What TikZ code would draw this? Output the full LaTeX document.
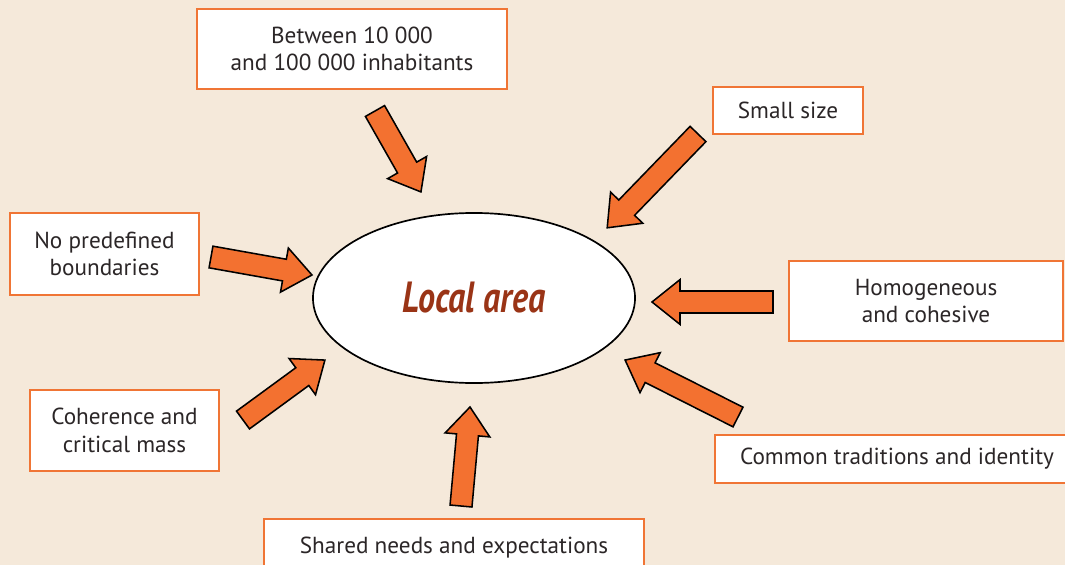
\documentclass[tikz,border=0pt]{standalone}
\usepackage{fontspec}
\setmainfont{PT Sans}
\usepackage{xcolor}
\usepackage{tikz}
\usetikzlibrary{positioning,shapes,calc}

\definecolor{paper}{HTML}{F5E9DA}
\definecolor{boxorange}{HTML}{F07535}
\definecolor{arroworange}{HTML}{F37130}
\definecolor{areared}{HTML}{9A3416}
\definecolor{textgrey}{HTML}{2B2627}

\tikzset{
  factor/.style={draw=boxorange,fill=white,line width=1.4pt,align=center,
    inner sep=0pt,text=textgrey,font=\fontsize{16.5}{19.5}\selectfont},
  fatarrow/.style={draw=black,fill=arroworange,line width=1.1pt,line join=miter}
}

% block arrow from #1 (tail) to #2 (tip)
\newcommand{\headarrow}[2]{%
  \path let \p1=($(#2)-(#1)$) in
    \pgfextra{\pgfmathparse{atan2(\y1,\x1)}\xdef\arrangle{\pgfmathresult}%
      \pgfmathparse{veclen(\x1,\y1)}\xdef\arrlength{\pgfmathresult pt}};
  \draw[fatarrow,shift={(#1)},rotate=\arrangle]
    (0pt,-0.275cm) -- (\arrlength-0.7cm,-0.275cm) -- (\arrlength-0.7cm,-0.56cm)
    -- (\arrlength,0pt) -- (\arrlength-0.7cm,0.56cm) -- (\arrlength-0.7cm,0.275cm)
    -- (0pt,0.275cm) -- cycle;}

\begin{document}
\begin{tikzpicture}[x=0.025cm,y=-0.025cm]
\fill[paper] (0,0) rectangle (1065,565);
\useasboundingbox (0,0) rectangle (1065,565);

\node[draw=black,fill=white,ellipse,line width=1.2pt,minimum width=8.05cm,
  minimum height=4.25cm,inner sep=0pt] (area) at (474,298)
  {\scalebox{0.78}[1]{\fontsize{31}{31}\selectfont\bfseries\itshape\color{areared}Local area}};
%
\node[factor,minimum width=7.75cm,minimum height=2cm] (size) at (352,49)
  {Between 10~000\\and 100~000 inhabitants};
\node[factor,minimum width=3.75cm,minimum height=1.175cm] (small) at (788,110.5) {Small size};
\node[factor,minimum width=4.725cm,minimum height=2.05cm] (bound) at (104.5,254)
  {No predefined\\boundaries};
\node[factor,minimum width=6.85cm,minimum height=2cm] (homog) at (926,301)
  {Homogeneous\\and cohesive};
\node[factor,minimum width=4.725cm,minimum height=2.025cm] (mass) at (124.5,430.5)
  {Coherence and\\critical mass};
\node[factor,minimum width=9.1cm,minimum height=1.2cm] (trad) at (897,459)
  {Common traditions and identity};
\node[factor,minimum width=9.5cm,minimum height=1.45cm] (needs) at (454,548)
  {Shared needs and expectations};
%
\coordinate (t1) at (375,111);  \coordinate (h1) at (421,192);
\coordinate (t2) at (698,134);  \coordinate (h2) at (607,228);
\coordinate (t3) at (211,257);  \coordinate (h3) at (312,275);
\coordinate (t4) at (773,302);  \coordinate (h4) at (652,302);
\coordinate (t5) at (243,420);  \coordinate (h5) at (325,360);
\coordinate (t6) at (738,417);  \coordinate (h6) at (625,360);
\coordinate (t7) at (461,506);  \coordinate (h7) at (470,407);
\foreach \i in {1,...,7}
  \headarrow{t\i}{h\i};
\end{tikzpicture}
\end{document}
